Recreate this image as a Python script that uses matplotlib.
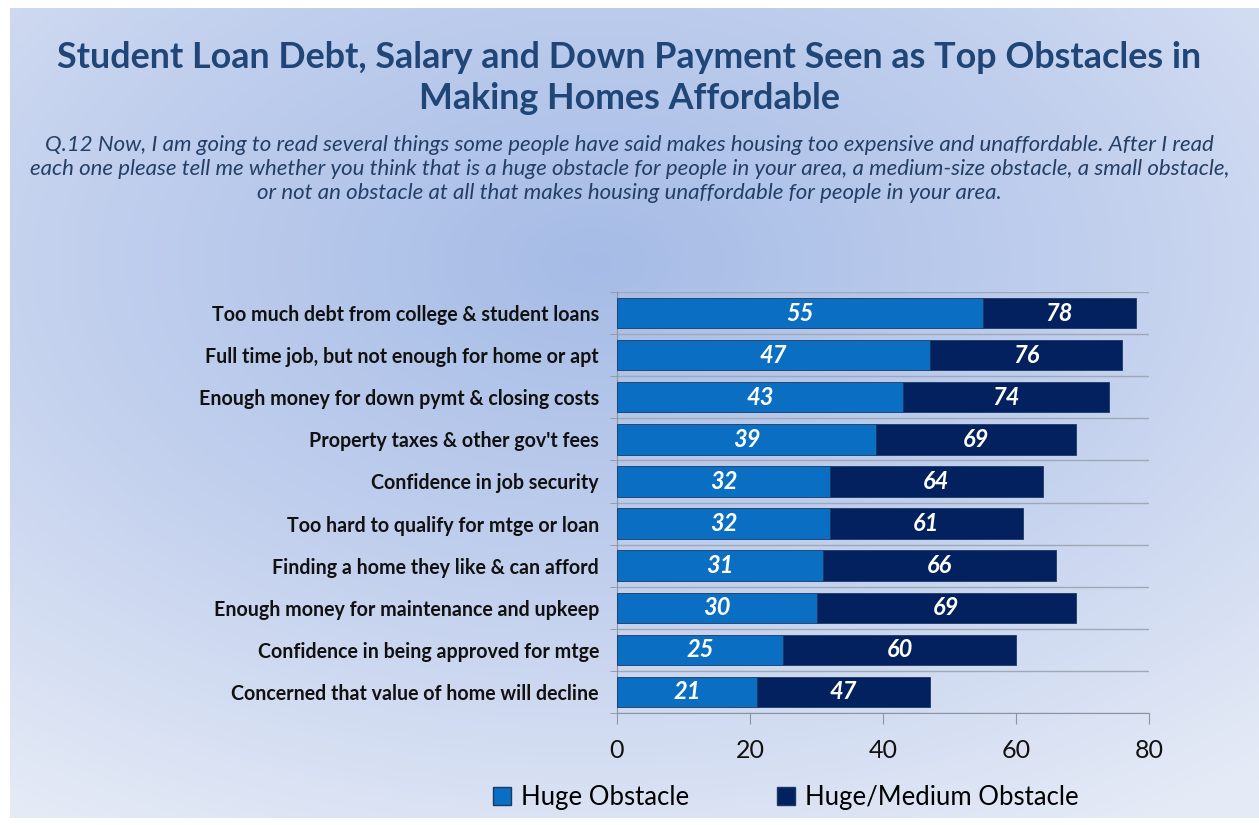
import numpy as np
import matplotlib.pyplot as plt
from matplotlib.colors import LinearSegmentedColormap
from matplotlib.patches import Patch

categories = [
    "Too much debt from college & student loans",
    "Full time job, but not enough for home or apt",
    "Enough money for down pymt & closing costs",
    "Property taxes & other gov't fees",
    "Confidence in job security",
    "Too hard to qualify for mtge or loan",
    "Finding a home they like & can afford",
    "Enough money for maintenance and upkeep",
    "Confidence in being approved for mtge",
    "Concerned that value of home will decline",
]
huge = [55, 47, 43, 39, 32, 32, 31, 30, 25, 21]
huge_medium = [78, 76, 74, 69, 64, 61, 66, 69, 60, 47]

title = ("Student Loan Debt, Salary and Down Payment Seen as Top Obstacles in\n"
         "Making Homes Affordable")
question = ("Q.12 Now, I am going to read several things some people have said makes housing too expensive and unaffordable. After I read\n"
            "each one please tell me whether you think that is a huge obstacle for people in your area, a medium-size obstacle, a small obstacle,\n"
            "or not an obstacle at all that makes housing unaffordable for people in your area.")

light = "#0a6fc2"
dark = "#02215e"
font = "Lato"

W, H = 1259, 825
fig = plt.figure(figsize=(W / 100, H / 100), dpi=100, facecolor="white")

# soft radial backdrop
bg = fig.add_axes([10 / W, 7 / H, 1 - 10 / W, 1 - 15 / H])
yy, xx = np.mgrid[0:400, 0:600]
cx, cy = 280, 125
d = np.sqrt(((xx - cx) / 500) ** 2 + ((yy - cy) / 320) ** 2)
d = np.clip(d, 0, 1)
cmap = LinearSegmentedColormap.from_list("bgc", ["#a6bce6", "#c2d0ee", "#e4eaf6"])
bg.imshow(d, cmap=cmap, aspect="auto", extent=[0, 1, 1, 0], vmin=0, vmax=1)
bg.axis("off")

fig.text(0.5, 1 - 78 / H, title, ha="center", va="center", fontsize=25.8,
         fontweight="bold", color="#1f4677", family=font, linespacing=1.3)
fig.text(0.5, 1 - 169 / H, question, ha="center", va="center", fontsize=16,
         style="italic", color="#243f66", family=font, linespacing=1.25)

ax = fig.add_axes([617 / W, 1 - 713 / H, (1149 - 617) / W, (713 - 292) / H])
ax.set_facecolor("none")
y = np.arange(len(categories))
rest = [t - h for t, h in zip(huge_medium, huge)]
ax.barh(y, huge, height=0.72, color=light, edgecolor="#1b3a63", linewidth=0.6,
        label="Huge Obstacle", zorder=3)
ax.barh(y, rest, left=huge, height=0.72, color=dark, edgecolor="#1b3a63",
        linewidth=0.6, label="Huge/Medium Obstacle", zorder=3)

for i, (h, t) in enumerate(zip(huge, huge_medium)):
    ax.text(h / 2, i, str(h), ha="center", va="center", color="white",
            fontsize=17, fontweight="bold", style="italic", family=font, zorder=4)
    ax.text((h + t) / 2, i, str(t), ha="center", va="center", color="white",
            fontsize=17, fontweight="bold", style="italic", family=font, zorder=4)

ax.set_xlim(0, 80)
ax.set_ylim(len(categories) - 0.5, -0.5)
ax.set_xticks([0, 20, 40, 60, 80])
ax.set_yticks(y)
ax.set_yticklabels(categories, fontsize=14.1, fontweight="bold", family=font,
                   color="#111111")
ax.set_yticks(np.arange(-0.5, len(categories), 1), minor=True)
ax.grid(which="minor", axis="y", color="#9fa8b5", linewidth=1.0, zorder=1)
ax.tick_params(axis="y", which="major", length=0, pad=13)
ax.tick_params(axis="y", which="minor", length=5, color="#8c949f")
ax.tick_params(axis="x", length=8, color="#8c949f", labelsize=18, pad=11)
for lab in ax.get_xticklabels():
    lab.set_family(font)
    lab.set_color("#111111")
for side in ["top", "right"]:
    ax.spines[side].set_visible(False)
for side in ["left", "bottom"]:
    ax.spines[side].set_color("#8c949f")

handles = [Patch(facecolor=light, edgecolor="#1b3a63", label="Huge Obstacle"),
           Patch(facecolor=dark, edgecolor="#1b3a63", label="Huge/Medium Obstacle")]
fig.legend(handles=handles, loc="center", bbox_to_anchor=(786 / W, 1 - 797 / H),
           ncol=2, frameon=False, prop={"family": font, "size": 18.5},
           handlelength=0.7, handleheight=0.7, columnspacing=3.4, handletextpad=0.4)

fig.savefig("out.png", dpi=100, facecolor="white")
